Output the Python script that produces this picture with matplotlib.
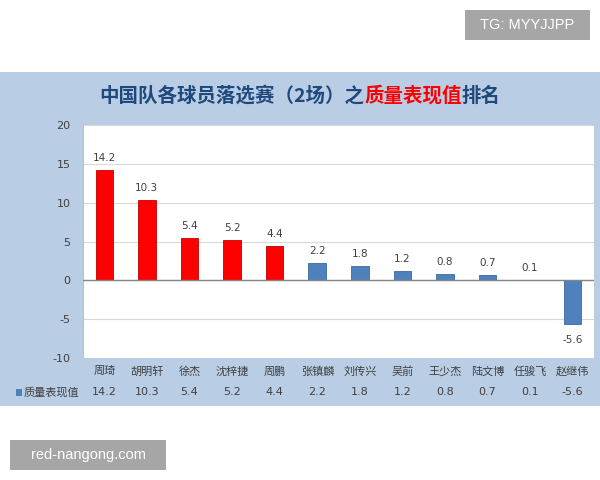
import matplotlib
matplotlib.use("Agg")
import matplotlib.pyplot as plt
from matplotlib.patches import Rectangle
import matplotlib.transforms as mtransforms

plt.rcParams['font.family'] = ['Noto Sans CJK SC', 'DejaVu Sans']

players = ["周琦", "胡明轩", "徐杰", "沈梓捷", "周鹏", "张镇麟", "刘传兴", "吴前", "王少杰", "陆文博", "任骏飞", "赵继伟"]
values = [14.2, 10.3, 5.4, 5.2, 4.4, 2.2, 1.8, 1.2, 0.8, 0.7, 0.1, -5.6]
n_red = 5
series_name = "质量表现值"
yticks = [-10, -5, 0, 5, 10, 15, 20]
title_parts = [("中国队各球员落选赛（2场）之", "#1F497D"), ("质量表现值", "#FF0000"), ("排名", "#1F497D")]

W, H = 600, 480
fig = plt.figure(figsize=(6, 4.8), dpi=100)
fig.patch.set_facecolor("white")

def fx(px):
    return px / W

def fy(py):
    return 1 - py / H

# blue panel
fig.patches.append(Rectangle((0, fy(406)), 1, fy(72) - fy(406), transform=fig.transFigure,
                             facecolor="#B9CDE5", edgecolor="none", zorder=-10))

ax = fig.add_axes([fx(83), fy(358), fx(594) - fx(83), fy(125) - fy(358)])
ax.set_zorder(2)
ax.set_facecolor("white")
ax.set_ylim(-10, 20)
ax.set_xlim(-0.5, len(players) - 0.5)
colors = ["#FF0000" if i < n_red else "#4F81BD" for i in range(len(players))]
edge = ["#C00000" if i < n_red else "#3A6A9F" for i in range(len(players))]
x = list(range(len(players)))
ax.bar(x, values, width=0.41, color=colors, edgecolor=edge, linewidth=0.6, zorder=3)
for xi, v in zip(x, values):
    if v >= 0:
        ax.annotate(f"{v:.1f}", (xi, v), xytext=(0, 5), textcoords="offset points",
                    ha="center", va="bottom", fontsize=7.5, color="#404040", family=["DejaVu Sans"])
    else:
        ax.annotate(f"{v:.1f}", (xi, v), xytext=(0, -8), textcoords="offset points",
                    ha="center", va="top", fontsize=7.5, color="#404040", family=["DejaVu Sans"])

ax.set_yticks(yticks)
ax.set_yticklabels([str(t) for t in yticks], fontsize=8, color="#404040", family=["DejaVu Sans"])
ax.tick_params(axis="y", length=0, pad=9)
ax.grid(axis="y", color="#D9D9D9", linewidth=0.8, zorder=0)
ax.axhline(0, color="#868686", linewidth=1.0, zorder=4)
for s in ["top", "right", "bottom"]:
    ax.spines[s].set_visible(False)
ax.spines["left"].set_color("#BFBFBF")
ax.set_xticks(x)
ax.set_xticklabels(players, fontsize=8, color="#404040")
ax.tick_params(axis="x", length=0, pad=6)

# value row of data table
trans = mtransforms.blended_transform_factory(ax.transData, fig.transFigure)
for xi, v in zip(x, values):
    ax.text(xi, fy(392), f"{v:.1f}", transform=trans, ha="center", va="center",
            fontsize=8, color="#404040", family=["DejaVu Sans"], clip_on=False)
fig.patches.append(Rectangle((fx(16), fy(396)), fx(6), fy(389) - fy(396), transform=fig.transFigure,
                             facecolor="#4F81BD", edgecolor="none"))
fig.text(fx(24), fy(392), series_name, ha="left", va="center", fontsize=8, color="#404040")

# title with coloured parts
renderer = fig.canvas.get_renderer()
texts = []
for s, c in title_parts:
    t = fig.text(0, fy(96), s, ha="left", va="center", fontsize=14, fontweight="bold", color=c)
    texts.append(t)
widths = [t.get_window_extent(renderer).width for t in texts]
total = sum(widths)
start = (W - total) / 2
for t, w in zip(texts, widths):
    t.set_x(fx(start))
    start += w

# watermarks
fig.patches.append(Rectangle((fx(465), fy(40)), fx(125), fy(10) - fy(40), transform=fig.transFigure,
                             facecolor="#A6A6A6", edgecolor="none"))
fig.text(fx(527.5), fy(25), "TG: MYYJJPP", ha="center", va="center", fontsize=10.5,
         color="white", family=["Liberation Sans"])
fig.patches.append(Rectangle((fx(10), fy(470)), fx(156), fy(440) - fy(470), transform=fig.transFigure,
                             facecolor="#A6A6A6", edgecolor="none"))
fig.text(fx(88), fy(455), "red-nangong.com", ha="center", va="center", fontsize=10.5,
         color="white", family=["Liberation Sans"])

fig.savefig("out.png", dpi=100)
